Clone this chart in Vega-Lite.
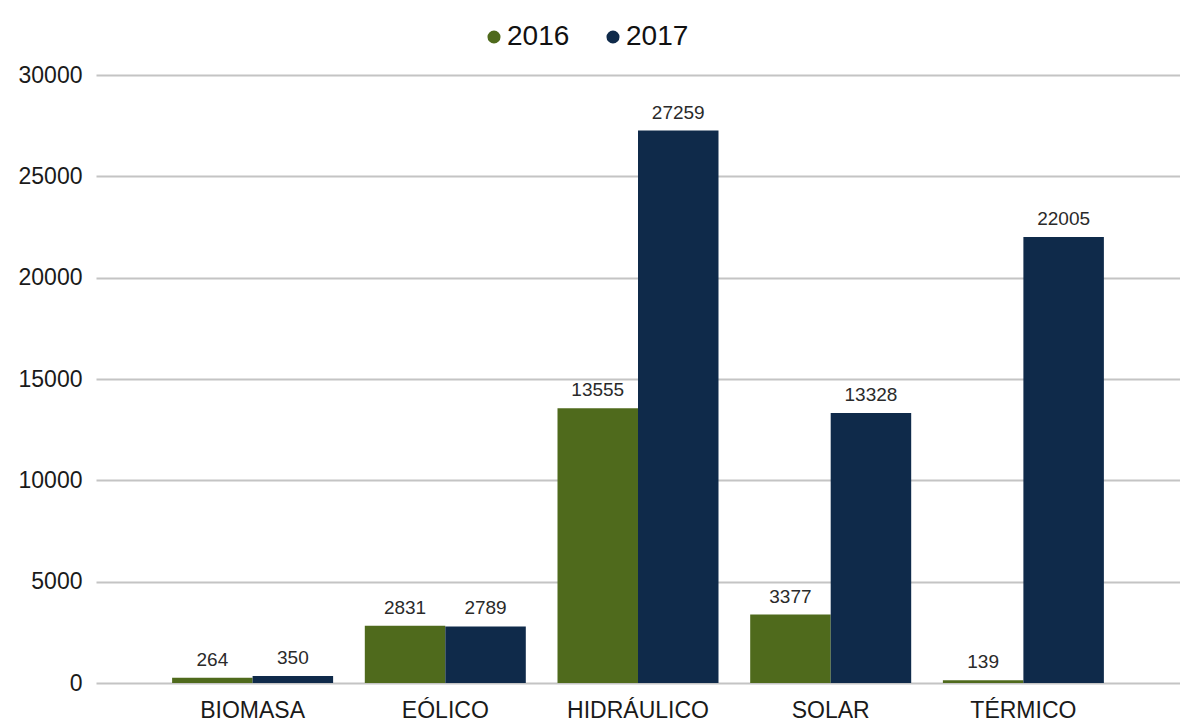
{
  "$schema": "https://vega.github.io/schema/vega-lite/v6.json",
  "autosize": "none",
  "width": 1084,
  "height": 608,
  "padding": {"left": 96, "top": 75, "right": 0, "bottom": 40},
  "background": "white",
  "data": {
    "values": [
      {"cat": "BIOMASA", "year": "2016", "value": 264},
      {"cat": "BIOMASA", "year": "2017", "value": 350},
      {"cat": "EÓLICO", "year": "2016", "value": 2831},
      {"cat": "EÓLICO", "year": "2017", "value": 2789},
      {"cat": "HIDRÁULICO", "year": "2016", "value": 13555},
      {"cat": "HIDRÁULICO", "year": "2017", "value": 27259},
      {"cat": "SOLAR", "year": "2016", "value": 3377},
      {"cat": "SOLAR", "year": "2017", "value": 13328},
      {"cat": "TÉRMICO", "year": "2016", "value": 139},
      {"cat": "TÉRMICO", "year": "2017", "value": 22005}
    ]
  },
  "encoding": {
    "x": {
      "field": "cat", "type": "nominal", "sort": null,
      "scale": {"paddingInner": 0.1645, "paddingOuter": 0.395},
      "axis": {"title": null, "labelAngle": 0, "domain": false, "ticks": false, "labelPadding": 16, "labelFontSize": 23, "labelColor": "#1a1a1a", "labelFont": "Liberation Sans"}
    },
    "xOffset": {"field": "year", "type": "nominal", "scale": {"paddingInner": 0, "paddingOuter": 0}},
    "y": {
      "field": "value", "type": "quantitative",
      "scale": {"domain": [0, 30000], "nice": false},
      "axis": {"title": null, "values": [0, 5000, 10000, 15000, 20000, 25000, 30000], "format": "d", "domain": false, "ticks": false, "labelPadding": 14, "labelFontSize": 23, "labelColor": "#1a1a1a", "labelFont": "Liberation Sans", "gridColor": "#c4c4c4", "gridWidth": 2}
    }
  },
  "layer": [
    {
      "mark": {"type": "bar"},
      "encoding": {
        "color": {
          "field": "year", "type": "nominal",
          "scale": {"domain": ["2016", "2017"], "range": ["#4f6a1c", "#0f2a4a"]},
          "legend": {
            "title": null, "orient": "none", "direction": "horizontal",
            "legendX": 384, "legendY": -52,
            "symbolType": "circle", "symbolSize": 170, "labelFontSize": 28,
            "labelFont": "Liberation Sans", "labelColor": "#111111",
            "labelOffset": -1, "columnPadding": 29
          }
        }
      }
    },
    {
      "mark": {"type": "text", "baseline": "bottom", "dy": -8, "fontSize": 19, "font": "Liberation Sans", "color": "#2a2a2a"},
      "encoding": {"text": {"field": "value", "type": "quantitative", "format": "d"}}
    }
  ],
  "config": {"view": {"stroke": null}}
}
